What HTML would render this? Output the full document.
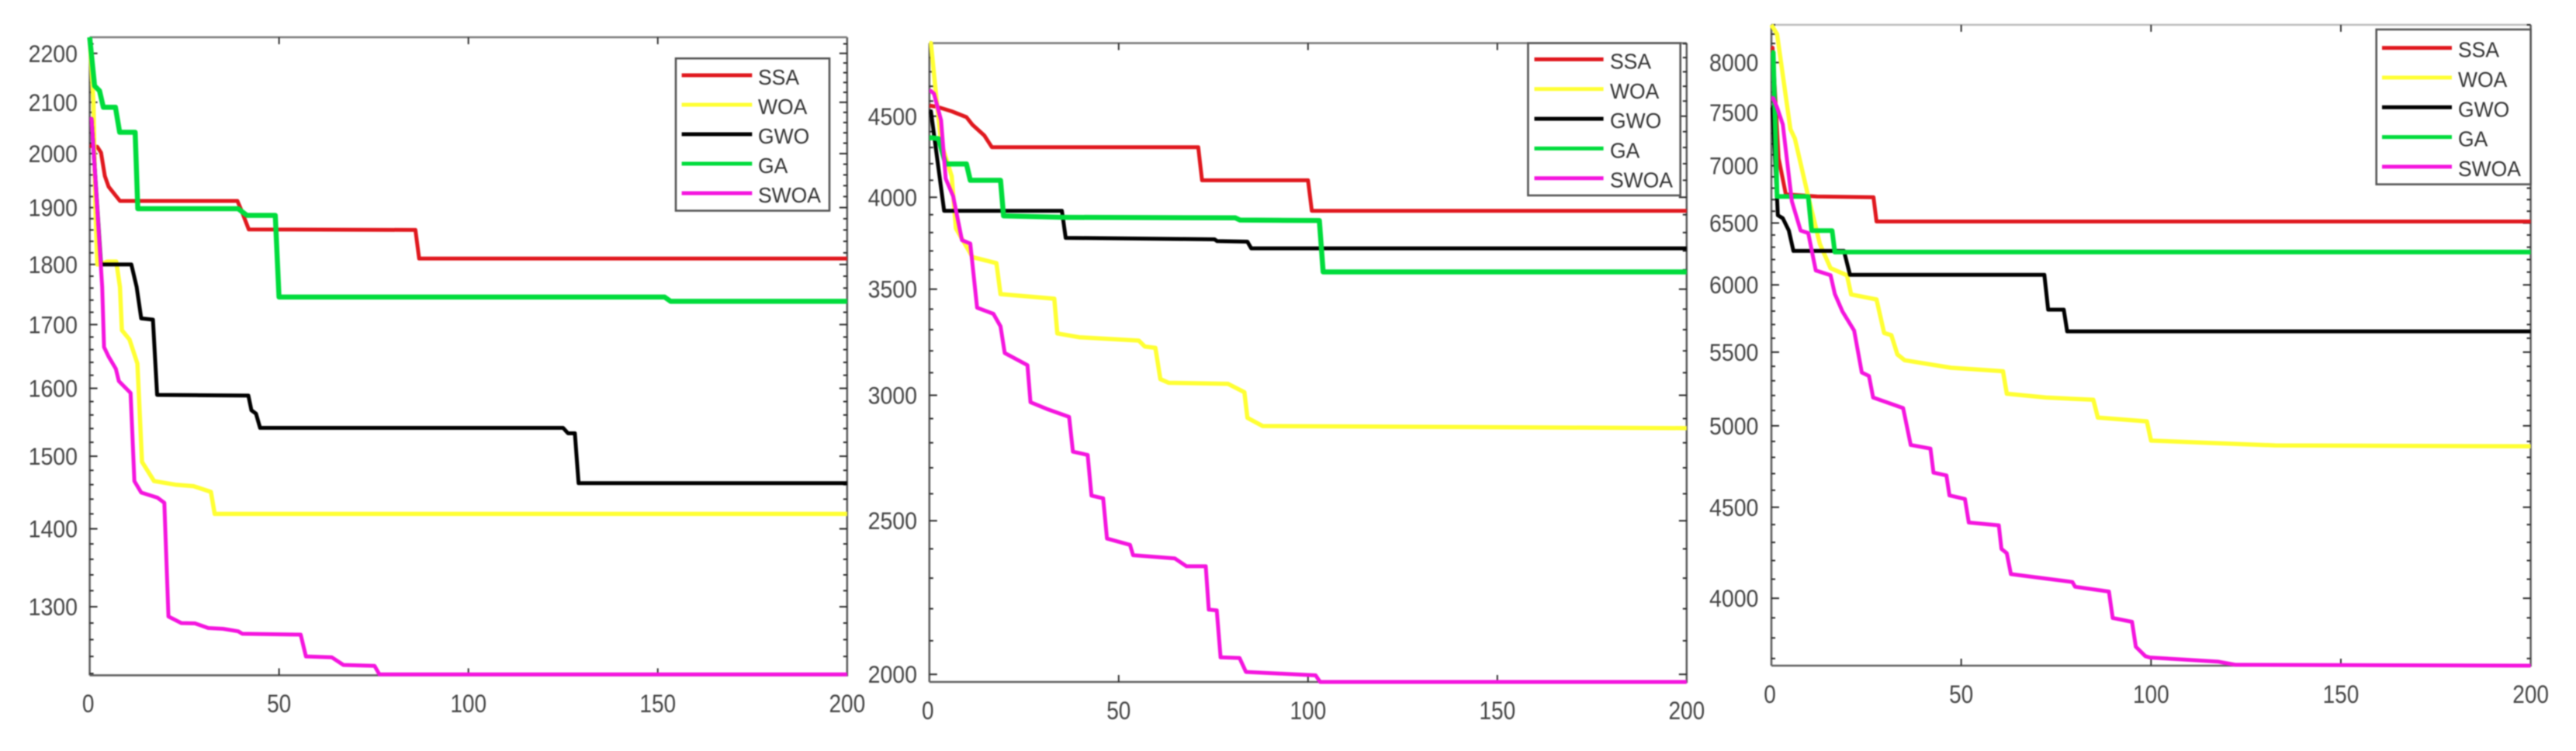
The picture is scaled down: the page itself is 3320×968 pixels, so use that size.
<!DOCTYPE html>
<html lang="en">
<head>
<meta charset="utf-8">
<title>Convergence curves: SSA, WOA, GWO, GA, SWOA</title>
<style>
html,body{margin:0;padding:0;background:#fff;}
body{width:3320px;height:968px;overflow:hidden;}
svg{display:block;filter:blur(0.9px);}
text{font-family:"Liberation Sans",Arial,sans-serif;}
</style>
</head>
<body>
<svg id="figure" xmlns="http://www.w3.org/2000/svg" width="3320" height="968" viewBox="0 0 3320 968">
<rect x="0" y="0" width="3320" height="968" fill="#ffffff"></rect>
</svg>
<script>
const seriesNames = ['SSA', 'WOA', 'GWO', 'GA', 'SWOA'];
const xTickLabels = [0, 50, 100, 150, 200];

const c1YTicks = [1300, 1400, 1500, 1600, 1700, 1800, 1900, 2000, 2100, 2200];
const c1SsaIter = [0, 2, 3, 4, 5, 8, 39, 40, 42, 86, 87, 200];
const c1SsaVal = [2015, 2013, 2002, 1958, 1938, 1912, 1912, 1896, 1861, 1860, 1810, 1810];
const c1WoaIter = [0, 1, 1.5, 2, 3, 4.6, 7, 8, 8.5, 10.5, 12.6, 13.8, 17, 22.6, 27.4, 32, 33, 200];
const c1WoaVal = [2230, 2100, 1900, 1800, 1800, 1805, 1805, 1762, 1691, 1676, 1638, 1492, 1465, 1460, 1458, 1450, 1420, 1420];
const c1GwoIter = [0, 0.5, 3, 11, 12.4, 13.6, 16.7, 17.8, 41.9, 42.7, 43.9, 45, 125, 126.3, 128.1, 129.1, 200];
const c1GwoVal = [2067, 2067, 1800, 1800, 1762, 1710, 1708, 1590, 1589, 1567, 1562, 1541, 1541, 1533, 1533, 1462, 1462];
const c1GaIter = [0, 1.3, 2.6, 3.6, 6.8, 7.9, 12, 12.7, 39.2, 41.5, 49, 50, 151.8, 153.4, 200];
const c1GaVal = [2234, 2133, 2123, 2090, 2090, 2041, 2041, 1898, 1898, 1886, 1886, 1745, 1745, 1738, 1738];
const c1SwoaIter = [0, 0.5, 3.3, 3.8, 5, 6.9, 7.7, 10.8, 11.8, 13.6, 17.9, 19.7, 20.8, 24.2, 27.8, 31.3, 35.2, 39.2, 40.3, 55.7, 57.1, 63.9, 67, 75.2, 76.5, 200];
const c1SwoaVal = [2067, 2067, 1762, 1664, 1649, 1630, 1611, 1593, 1465, 1449, 1442, 1435, 1288, 1280, 1279.6, 1274, 1273, 1270, 1267, 1266, 1240, 1239, 1230, 1229, 1219, 1219];

const c2YTicks = [2000, 2500, 3000, 3500, 4000, 4500];
const c2SsaIter = [0, 2, 5.9, 9.8, 11.4, 14.5, 16.5, 71, 72, 100, 101, 200];
const c2SsaVal = [4570, 4562, 4532, 4494, 4444, 4376, 4302, 4302, 4100, 4100, 3922, 3922];
const c2WoaIter = [0, 0.4, 1.6, 3.1, 5.9, 7, 11.4, 17.7, 18.8, 33, 33.8, 39.6, 55.3, 56.9, 59.7, 61, 63.2, 78.9, 83.2, 84, 88, 200];
const c2WoaVal = [5004, 5004, 4686, 4331, 4124, 3823, 3667, 3635, 3475, 3452, 3282, 3264, 3248, 3220, 3214, 3071, 3055, 3050, 3013, 2903, 2869, 2860];
const c2GwoIter = [0, 0.4, 3.9, 35, 36, 75.3, 76, 84, 85, 200];
const c2GwoVal = [4532, 4532, 3922, 3922, 3771, 3763, 3753, 3750, 3714, 3714];
const c2GaIter = [0, 0.8, 2.4, 4.3, 9.8, 10.8, 18.8, 19.6, 35.7, 80.8, 82, 103, 104, 200];
const c2GaVal = [4361, 4361, 4355, 4198, 4198, 4100, 4100, 3893, 3885, 3882, 3870, 3867, 3589, 3589];
const c2SwoaIter = [0, 0.4, 1.2, 3.1, 4.3, 6.3, 8.6, 10.8, 12.6, 16.9, 18.8, 19.9, 25.9, 26.7, 31, 36.9, 37.9, 41.8, 42.8, 45.9, 46.9, 53, 53.8, 64.8, 67.9, 73, 73.8, 75.9, 76.9, 81.9, 83.6, 102, 103.2, 200];
const c2SwoaVal = [4668, 4668, 4650, 4473, 4110, 4005, 3758, 3740, 3407, 3377, 3316, 3190, 3134, 2970, 2941, 2907, 2764, 2751, 2593, 2583, 2436, 2414, 2378, 2367, 2340, 2340, 2197, 2195, 2050, 2048, 2007, 1997, 1978, 1978];

const c3YTicks = [4000, 4500, 5000, 5500, 6000, 6500, 7000, 7500, 8000];
const c3SsaIter = [0, 0.3, 1.9, 3.8, 12, 26.9, 27.7, 200];
const c3SsaVal = [8155, 8155, 7069, 6746, 6727, 6720, 6513, 6513];
const c3WoaIter = [0, 1.5, 5, 6.2, 9.7, 12.8, 15.6, 19.9, 21, 27.7, 29.7, 31.6, 33.2, 35.1, 47.3, 61, 62, 72.3, 84.8, 86, 98.9, 100, 116, 132.7, 200];
const c3WoaVal = [8400, 8300, 7340, 7250, 6727, 6324, 6131, 6075, 5926, 5888, 5638, 5622, 5484, 5443, 5390, 5366, 5212, 5186, 5171, 5053, 5029, 4905, 4890, 4875, 4869];
const c3GwoIter = [0, 0.3, 1.5, 1.7, 3, 4.6, 5.8, 19.1, 20.7, 71.9, 72.9, 77, 77.9, 200];
const c3GwoVal = [7549, 7549, 6710, 6565, 6540, 6437, 6270, 6270, 6079, 6079, 5811, 5811, 5650, 5650];
const c3GaIter = [0, 0.5, 1.5, 9.7, 10.6, 16, 16.7, 200];
const c3GaVal = [8105, 8105, 6727, 6727, 6437, 6437, 6260, 6260];
const c3SwoaIter = [0, 0.5, 1.5, 3, 5.4, 7.7, 9.7, 11.7, 15.6, 16.7, 18.7, 21.8, 23.8, 25.7, 26.8, 34.7, 36.7, 41.9, 42.7, 46.1, 46.9, 51, 52, 59.9, 60.6, 62, 63.1, 79.3, 80, 88.9, 89.9, 95, 96, 98.5, 99.7, 117.8, 122.3, 200];
const c3SwoaVal = [7640, 7640, 7549, 7384, 6685, 6437, 6416, 6113, 6075, 5931, 5798, 5655, 5357, 5333, 5186, 5116, 4877, 4855, 4706, 4689, 4569, 4548, 4412, 4396, 4264, 4240, 4127, 4085, 4060, 4035, 3899, 3880, 3757, 3711, 3705, 3685, 3670, 3666];

const seriesColors = ['#e0181e', '#ffff33', '#000000', '#00dc3c', '#f414de'];
const svgNS = 'http://www.w3.org/2000/svg';
const figure = document.getElementById('figure');

function svgEl(tag, attrs, parent) {
  const el = document.createElementNS(svgNS, tag);
  for (const k in attrs) el.setAttribute(k, attrs[k]);
  parent.appendChild(el);
  return el;
}

function drawChart(cfg) {
  const group = svgEl('g', {}, figure);
  
  

  const xScale = function (v) { return cfg.left + (v / 200) * (cfg.right - cfg.left); };
  const yScale = function (v) {
    return cfg.bottom - (Math.log(v / cfg.yMin) / Math.log(cfg.yMax / cfg.yMin)) * (cfg.bottom - cfg.top);
  };

  // frame
  const frame = svgEl('path', {
    d: 'M' + cfg.left + ' ' + cfg.bottom + 'H' + cfg.right + 'V' + cfg.top + 'M' + cfg.left + ' ' + cfg.bottom + 'V' + cfg.top,
    fill: 'none', stroke: '#5f5f5f', 'stroke-width': 2.6
  }, group);
  
  
  const topSpine = svgEl('line', {
    x1: cfg.left, x2: cfg.right, y1: cfg.top, y2: cfg.top, stroke: cfg.topColor, 'stroke-width': 2.6
  }, group);
  
  

  // y ticks
  const firstMinor = Math.ceil(cfg.yMin / cfg.minorStep) * cfg.minorStep;
  for (let v = firstMinor; v <= cfg.yMax; v += cfg.minorStep) {
    const y = yScale(v);
    const isMajor = cfg.yTicks.indexOf(v) >= 0;
    const len = isMajor ? 10 : 5;
    const tl = svgEl('line', { x1: cfg.left, x2: cfg.left + len, y1: y, y2: y, stroke: '#2a2a2a', 'stroke-width': 2 }, group);
    
    
    const tr = svgEl('line', { x1: cfg.right, x2: cfg.right - len, y1: y, y2: y, stroke: '#2a2a2a', 'stroke-width': 2 }, group);
    
    
  }

  // y labels
  cfg.yTicks.forEach(function (v) {
    const t = svgEl('text', {
      'text-anchor': 'end', 'font-size': 28.5, fill: '#444',
      transform: 'translate(' + cfg.yLabelX + ' ' + (yScale(v) + 11) + ') scale(1 1.09)'
    }, group);
    t.textContent = String(v);
    
    
  });

  // x ticks and labels
  xTickLabels.forEach(function (v) {
    const x = xScale(v);
    if (v > 0 && v < 200) {
      const b = svgEl('line', { x1: x, x2: x, y1: cfg.bottom, y2: cfg.bottom - 9, stroke: '#333', 'stroke-width': 2 }, group);
      
      
      const u = svgEl('line', { x1: x, x2: x, y1: cfg.top, y2: cfg.top + 9, stroke: '#333', 'stroke-width': 2 }, group);
      
      
    }
    const t = svgEl('text', {
      'text-anchor': 'middle', 'font-size': 28, fill: '#444',
      transform: 'translate(' + (x - (v === 0 ? 2 : 0)) + ' ' + (cfg.xLabelY + 11) + ') scale(1 1.16)'
    }, group);
    t.textContent = String(v);
    
    
  });

  // series
  cfg.series.forEach(function (s, i) {
    const pts = s.iter.map(function (it, k) {
      return xScale(it).toFixed(1) + ',' + yScale(s.val[k]).toFixed(1);
    }).join(' ');
    const line = svgEl('polyline', {
      points: pts, fill: 'none', stroke: seriesColors[i], 'stroke-width': s.width,
      'stroke-linejoin': 'round', 'stroke-linecap': 'butt'
    }, group);
    
    
  });

  // legend
  const lg = cfg.legend;
  const legendGroup = svgEl('g', {}, group);
  
  
  const box = svgEl('rect', {
    x: lg.left, y: lg.top, width: lg.right - lg.left, height: lg.bottom - lg.top,
    fill: '#ffffff', stroke: '#555', 'stroke-width': 2.6
  }, legendGroup);
  
  
  seriesNames.forEach(function (name, i) {
    const y = lg.firstY + i * lg.stepY;
    const sample = svgEl('line', {
      x1: lg.sampleX1, x2: lg.sampleX2, y1: y, y2: y, stroke: seriesColors[i], 'stroke-width': 5
    }, legendGroup);
    
    
    const label = svgEl('text', {
      'font-size': 26.5, fill: '#333',
      transform: 'translate(' + lg.textX + ' ' + (y + 12) + ') scale(1 1.05)'
    }, legendGroup);
    label.textContent = name;
    
    
  });
}

drawChart({
  id: 'left', left: 115.6, right: 1091.8, top: 48, bottom: 870.4,
  yMin: 1218, yMax: 2234, yTicks: c1YTicks, minorStep: 20,
  yLabelX: 100, xLabelY: 907, topColor: '#7a7a7a',
  series: [
    { iter: c1SsaIter, val: c1SsaVal, width: 5 },
    { iter: c1WoaIter, val: c1WoaVal, width: 5.5 },
    { iter: c1GwoIter, val: c1GwoVal, width: 5 },
    { iter: c1GaIter, val: c1GaVal, width: 6.5 },
    { iter: c1SwoaIter, val: c1SwoaVal, width: 5 }
  ],
  legend: { left: 871, right: 1069, top: 75.3, bottom: 271.6, firstY: 97, stepY: 38, sampleX1: 878.6, sampleX2: 969.3, textX: 977 }
});

drawChart({
  id: 'middle', left: 1197.8, right: 2173.8, top: 55.6, bottom: 879,
  yMin: 1978, yMax: 5004, yTicks: c2YTicks, minorStep: 100,
  yLabelX: 1182, xLabelY: 916, topColor: '#7a7a7a',
  series: [
    { iter: c2SsaIter, val: c2SsaVal, width: 5 },
    { iter: c2WoaIter, val: c2WoaVal, width: 5.5 },
    { iter: c2GwoIter, val: c2GwoVal, width: 5 },
    { iter: c2GaIter, val: c2GaVal, width: 6.5 },
    { iter: c2SwoaIter, val: c2SwoaVal, width: 5 }
  ],
  legend: { left: 1969.4, right: 2165.7, top: 55.6, bottom: 251.9, firstY: 76.5, stepY: 38.3, sampleX1: 1977.5, sampleX2: 2066.6, textX: 2075 }
});

drawChart({
  id: 'right', left: 2283, right: 3261.6, top: 32, bottom: 858,
  yMin: 3666, yMax: 8400, yTicks: c3YTicks, minorStep: 100,
  yLabelX: 2266.4, xLabelY: 895, topColor: '#bbbbbb',
  series: [
    { iter: c3SsaIter, val: c3SsaVal, width: 5 },
    { iter: c3WoaIter, val: c3WoaVal, width: 5.5 },
    { iter: c3GwoIter, val: c3GwoVal, width: 5 },
    { iter: c3GaIter, val: c3GaVal, width: 6 },
    { iter: c3SwoaIter, val: c3SwoaVal, width: 5 }
  ],
  legend: { left: 3062.7, right: 3261.6, top: 38, bottom: 237.6, firstY: 61.7, stepY: 38.3, sampleX1: 3070, sampleX2: 3160, textX: 3168 }
});
</script>
</body>
</html>
